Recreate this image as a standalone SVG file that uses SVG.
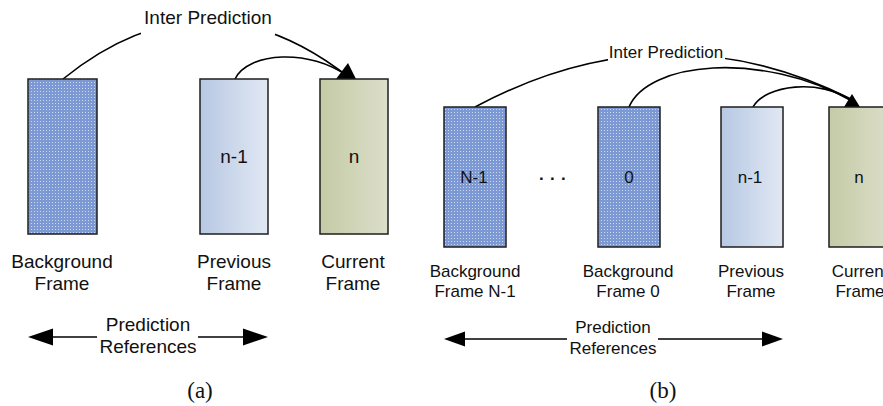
<svg xmlns="http://www.w3.org/2000/svg" width="883" height="406" viewBox="0 0 883 406">
<style>
.frame{stroke:#1e1e1e;stroke-width:1.5}
.bg{fill:url(#dots)}
.prev{fill:url(#gPrev)}
.cur{fill:url(#gCur)}
.t{font-family:"Liberation Sans",Arial,sans-serif;fill:#111}
.ta{font-size:19px}
.tb{font-size:17px}
.cap{font-family:"Liberation Serif","Times New Roman",serif;font-size:23px;fill:#111}
.c{fill:none;stroke:#000;stroke-width:1.6}
.ah{fill:#000}
.lab{fill:#fff}
</style>
<defs>
<pattern id="dots" patternUnits="userSpaceOnUse" width="3" height="3">
<rect width="3" height="3" fill="#7c99d4"/>
<rect x="1" y="1" width="1" height="1" fill="#cdd9f0"/>
</pattern>
<linearGradient id="gPrev" x1="0" y1="0" x2="1" y2="0">
<stop offset="0" stop-color="#b7c8e3"/>
<stop offset="1" stop-color="#e1e8f3"/>
</linearGradient>
<linearGradient id="gCur" x1="0" y1="0" x2="1" y2="0">
<stop offset="0" stop-color="#c4cba6"/>
<stop offset="1" stop-color="#dcdec9"/>
</linearGradient>
</defs>
<rect width="883" height="406" fill="#fff"/>

<g id="connectors">
<path class="c" d="M63,79 Q205,-36 350,78"/>
<path class="c" d="M235,79 C248,52 310,48 349,77"/>
<polygon class="ah" points="348,63 336,79 356,79"/>
<path class="c" d="M475,107 Q665,5 853,100"/>
<path class="c" d="M629,107 C648,62 760,50 852,101"/>
<path class="c" d="M753,107 C765,85 820,78 852,101"/>
<polygon class="ah" points="852,94 844,107 860,107"/>
<line class="c" x1="50" y1="337" x2="97" y2="337"/>
<line class="c" x1="198" y1="337" x2="246" y2="337"/>
<polygon class="ah" points="28,337 53,328.5 53,345.5"/>
<polygon class="ah" points="268,337 243,328.5 243,345.5"/>
<line class="c" x1="462" y1="339" x2="567" y2="339"/>
<line class="c" x1="658" y1="339" x2="765" y2="339"/>
<polygon class="ah" points="444,339 465,331.5 465,346.5"/>
<polygon class="ah" points="783,339 762,331.5 762,346.5"/>
</g>

<g id="label-inter-a">
<rect class="lab" x="141" y="4" width="134" height="31"/>
<text class="t ta" x="208" y="24" text-anchor="middle">Inter Prediction</text>
</g>
<g id="label-inter-b">
<rect class="lab" x="608" y="42" width="117" height="20"/>
<text class="t tb" x="666" y="58" text-anchor="middle">Inter Prediction</text>
</g>

<g id="a-background">
<rect class="frame bg" x="28" y="79" width="69" height="155"/>
<text class="t ta" x="62" y="268" text-anchor="middle">Background</text>
<text class="t ta" x="62" y="290" text-anchor="middle">Frame</text>
</g>
<g id="a-previous">
<rect class="frame prev" x="200" y="79" width="68" height="155"/>
<text class="t ta" x="234" y="163" text-anchor="middle">n-1</text>
<text class="t ta" x="234" y="268" text-anchor="middle">Previous</text>
<text class="t ta" x="234" y="290" text-anchor="middle">Frame</text>
</g>
<g id="a-current">
<rect class="frame cur" x="320" y="79" width="68" height="155"/>
<text class="t ta" x="354" y="163" text-anchor="middle">n</text>
<text class="t ta" x="353" y="268" text-anchor="middle">Current</text>
<text class="t ta" x="353" y="290" text-anchor="middle">Frame</text>
</g>
<g id="a-refs">
<text class="t ta" x="148" y="331" text-anchor="middle">Prediction</text>
<text class="t ta" x="148" y="353" text-anchor="middle">References</text>
</g>
<g id="a-caption">
<text class="cap" x="200" y="398" text-anchor="middle">(a)</text>
</g>

<g id="b-background-n1">
<rect class="frame bg" x="444" y="107" width="62" height="140"/>
<text class="t tb" x="474" y="183" text-anchor="middle">N-1</text>
<text class="t tb" x="475" y="277" text-anchor="middle">Background</text>
<text class="t tb" x="475" y="297" text-anchor="middle">Frame N-1</text>
</g>
<g id="b-dots">
<text class="t tb" x="539" y="180" font-weight="bold" letter-spacing="6.3">...</text>
</g>
<g id="b-background-0">
<rect class="frame bg" x="598" y="107" width="62" height="140"/>
<text class="t tb" x="629" y="183" text-anchor="middle">0</text>
<text class="t tb" x="628" y="277" text-anchor="middle">Background</text>
<text class="t tb" x="628" y="297" text-anchor="middle">Frame 0</text>
</g>
<g id="b-previous">
<rect class="frame prev" x="721" y="107" width="62" height="140"/>
<text class="t tb" x="750" y="183" text-anchor="middle">n-1</text>
<text class="t tb" x="751" y="277" text-anchor="middle">Previous</text>
<text class="t tb" x="751" y="297" text-anchor="middle">Frame</text>
</g>
<g id="b-current">
<rect class="frame cur" x="829" y="107" width="62" height="140"/>
<text class="t tb" x="859" y="183" text-anchor="middle">n</text>
<text class="t tb" x="860" y="277" text-anchor="middle">Current</text>
<text class="t tb" x="860" y="297" text-anchor="middle">Frame</text>
</g>
<g id="b-refs">
<text class="t tb" x="613" y="333" text-anchor="middle">Prediction</text>
<text class="t tb" x="613" y="354" text-anchor="middle">References</text>
</g>
<g id="b-caption">
<text class="cap" x="663" y="398" text-anchor="middle">(b)</text>
</g>
</svg>
